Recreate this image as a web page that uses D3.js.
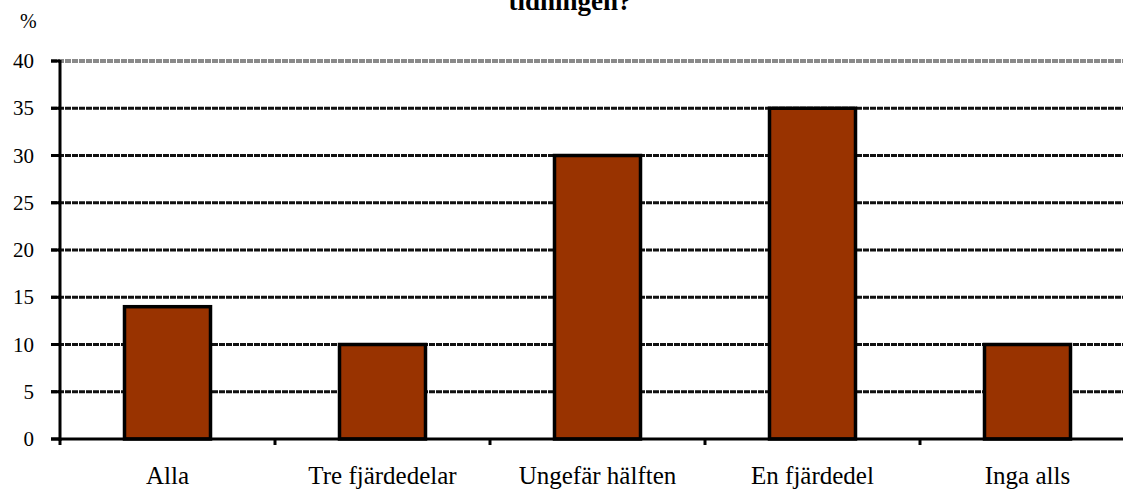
<!DOCTYPE html>
<html>
<head>
<meta charset="utf-8">
<script src="https://cdn.jsdelivr.net/npm/d3@7"></script>
<style>
  html, body { margin: 0; padding: 0; background: #fff; }
  svg { display: block; }
  svg text { font-family: "Liberation Serif", "Times New Roman", Times, "DejaVu Serif", serif; fill: #000; }
</style>
</head>
<body>
<svg id="chart" width="1123" height="490"></svg>
<script>
// data
const categories = ["Alla", "Tre fjärdedelar", "Ungefär hälften", "En fjärdedel", "Inga alls"];
const values = [14, 10, 30, 35, 10];
const yTicks = [0, 5, 10, 15, 20, 25, 30, 35, 40];
const titleText = "tidningen?";
const unitLabel = "%";

const chartW = 1123, chartH = 490;
const plotLeft = 60, plotBottom = 439, plotTop = 61;
const step = 215;

const svg = d3.select("#chart");

const x = d3.scaleBand()
    .domain(categories)
    .range([plotLeft, plotLeft + step * categories.length])
    .paddingInner(0.6)
    .paddingOuter(0.3);

const y = d3.scaleLinear()
    .domain([0, 40])
    .range([plotBottom, plotTop]);

// gridlines (nearly solid, tiny light gaps)
svg.append("g")
    .selectAll("line")
    .data(yTicks.filter(d => d > 0))
    .enter()
    .append("line")
    .attr("x1", plotLeft - 9)
    .attr("x2", chartW)
    .attr("y1", d => y(d))
    .attr("y2", d => y(d))
    .attr("stroke", d => d === 40 ? "#8a8a8a" : "#111")
    .attr("stroke-width", d => d === 40 ? 4 : 3)
    .attr("stroke-dasharray", "6,1");

// y tick marks + labels
svg.append("g")
    .selectAll("line")
    .data(yTicks)
    .enter()
    .append("line")
    .attr("x1", plotLeft - 9)
    .attr("x2", plotLeft)
    .attr("y1", d => y(d))
    .attr("y2", d => y(d))
    .attr("stroke", "#000")
    .attr("stroke-width", 3);

svg.append("g")
    .selectAll("text")
    .data(yTicks)
    .enter()
    .append("text")
    .attr("x", 34)
    .attr("y", d => y(d) + 7)
    .attr("text-anchor", "end")
    .style("font-size", "21px")
    .text(d => d);

// bars
svg.append("g")
    .selectAll("rect")
    .data(values)
    .enter()
    .append("rect")
    .attr("x", (d, i) => x(categories[i]))
    .attr("y", d => y(d))
    .attr("width", x.bandwidth())
    .attr("height", d => y(0) - y(d))
    .attr("fill", "#993300")
    .attr("stroke", "#000")
    .attr("stroke-width", 3.5);

// axes
svg.append("line")
    .attr("x1", plotLeft).attr("x2", plotLeft)
    .attr("y1", plotTop - 1).attr("y2", plotBottom + 2)
    .attr("stroke", "#000").attr("stroke-width", 3);

svg.append("line")
    .attr("x1", plotLeft - 9).attr("x2", chartW)
    .attr("y1", plotBottom).attr("y2", plotBottom)
    .attr("stroke", "#000").attr("stroke-width", 3);

// x tick marks at band boundaries
svg.append("g")
    .selectAll("line")
    .data(d3.range(categories.length))
    .enter()
    .append("line")
    .attr("x1", i => x(categories[i]) - x.step() * x.paddingOuter())
    .attr("x2", i => x(categories[i]) - x.step() * x.paddingOuter())
    .attr("y1", plotBottom)
    .attr("y2", plotBottom + 6)
    .attr("stroke", "#000")
    .attr("stroke-width", 3);

// category labels
svg.append("g")
    .selectAll("text")
    .data(categories)
    .enter()
    .append("text")
    .attr("x", d => x(d) + x.bandwidth() / 2)
    .attr("y", 484)
    .attr("text-anchor", "middle")
    .style("font-size", "25px")
    .text(d => d);

// unit + title (title is cut off by the top edge, as in the original)
svg.append("text")
    .attr("x", 20)
    .attr("y", 28)
    .style("font-size", "20px")
    .text(unitLabel);

svg.append("text")
    .attr("x", 570)
    .attr("y", 10)
    .attr("text-anchor", "middle")
    .style("font-size", "27px")
    .style("font-weight", "bold")
    .text(titleText);
</script>
</body>
</html>
